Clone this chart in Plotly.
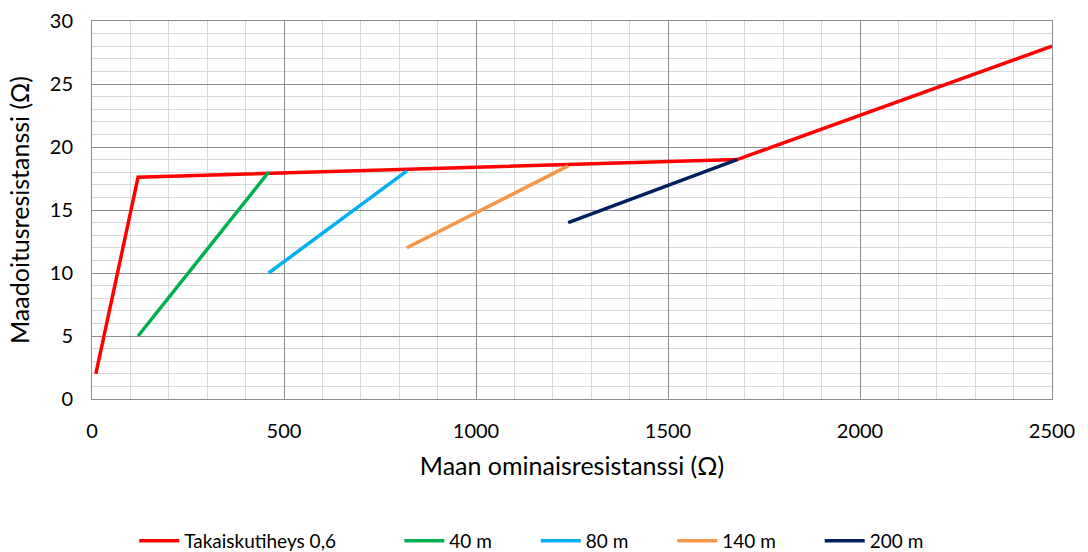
import plotly.graph_objects as go

# Data
red_x = [10, 120, 1680, 2500]
red_y = [2, 17.6, 19, 28]
green_x = [120, 460]
green_y = [5, 18]
blue_x = [460, 820]
blue_y = [10, 18.1]
orange_x = [820, 1240]
orange_y = [12, 18.5]
navy_x = [1240, 1680]
navy_y = [14, 19]

names = ["Takaiskutiheys 0,6", "40 m", "80 m", "140 m", "200 m"]
pads = [12, 8, 8, 8, 0]
colors = ["#ff0000", "#00b050", "#00b0f0", "#f79646", "#002060"]
series = [(red_x, red_y), (green_x, green_y), (blue_x, blue_y), (orange_x, orange_y), (navy_x, navy_y)]

FONT = "Lato"

fig = go.Figure()
for (xs, ys), n, p, c in zip(series, names, pads, colors):
    fig.add_trace(go.Scatter(x=xs, y=ys, mode="lines", name=n + "\u00a0" * p,
                             line=dict(color=c, width=3.5)))

major = "#8c8c8c"
minor = "#d9d9d9"

fig.update_layout(
    width=1088, height=552,
    margin=dict(l=92, r=36, t=21, b=153, autoexpand=False),
    paper_bgcolor="white", plot_bgcolor="white",
    font=dict(family=FONT, size=20, color="#000000"),
    showlegend=True,
    legend=dict(orientation="h", x=0.458, xanchor="center", y=-0.3757, yanchor="middle",
                font=dict(size=19, family=FONT), itemwidth=40, tracegroupgap=0),
    xaxis=dict(
        range=[0, 2500], dtick=500, tick0=0,
        showgrid=True, gridcolor=major, gridwidth=1,
        minor=dict(dtick=100, showgrid=True, gridcolor=minor, gridwidth=1),
        showline=True, linecolor=major, linewidth=1, mirror=True,
        zeroline=False, ticks="", ticklabelstandoff=14,
        tickfont=dict(size=20, family=FONT),
        title=dict(text="Maan ominaisresistanssi (Ω)", font=dict(size=25, family=FONT), standoff=16),
    ),
    yaxis=dict(
        range=[0, 30], dtick=5, tick0=0,
        showgrid=True, gridcolor=major, gridwidth=1,
        minor=dict(dtick=1, showgrid=True, gridcolor=minor, gridwidth=1),
        showline=True, linecolor=major, linewidth=1, mirror=True,
        zeroline=False, ticks="", ticklabelstandoff=14,
        tickfont=dict(size=20, family=FONT),
        title=dict(text="Maadoitusresistanssi (Ω)", font=dict(size=25, family=FONT), standoff=13),
    ),
)

fig.write_html("out.html")
